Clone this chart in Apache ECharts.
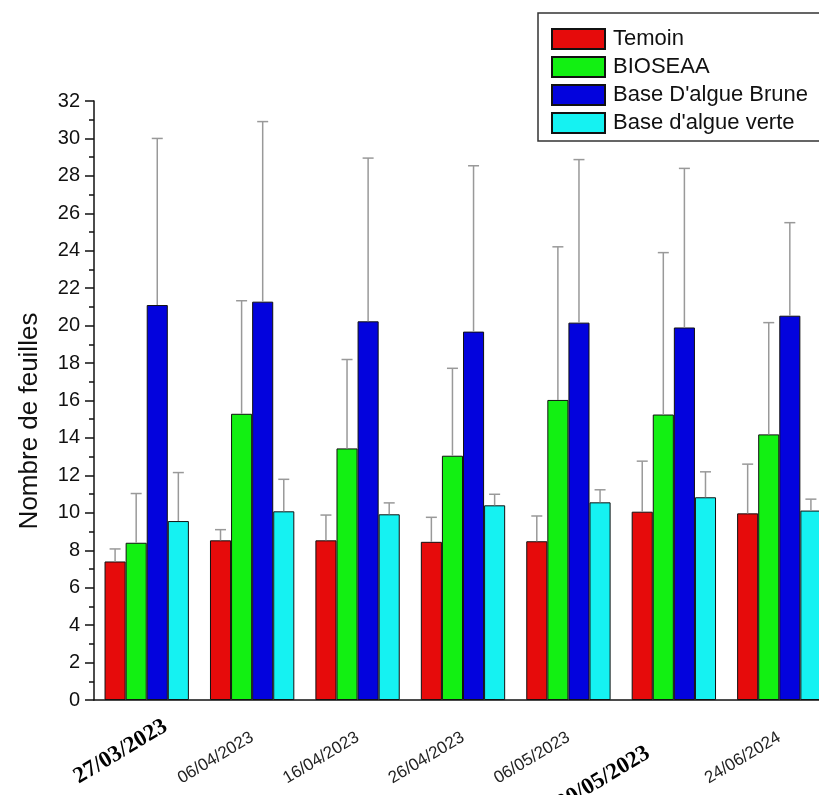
<!DOCTYPE html>
<html>
<head>
<meta charset="utf-8">
<script src="https://cdn.jsdelivr.net/npm/echarts@6/dist/echarts.min.js"></script>
<style>
  html, body { margin: 0; padding: 0; background: #fff; }
  #chart { width: 819px; height: 795px; }
</style>
</head>
<body>
<div id="chart"></div>
<script>
// dates de mesure
const dates = ['27/03/2023', '06/04/2023', '16/04/2023', '26/04/2023', '06/05/2023', '30/05/2023', '24/06/2024'];

// moyennes + écarts (partie haute seulement)
const temoin = [7.4, 8.53, 8.53, 8.45, 8.48, 10.06, 9.97];
const temoinSd = [0.67, 0.57, 1.35, 1.31, 1.35, 2.7, 2.63];
const bioseaa = [8.4, 15.29, 13.44, 13.05, 16.03, 15.25, 14.19];
const bioseaaSd = [2.63, 6.04, 4.75, 4.67, 8.18, 8.65, 5.97];
const brune = [21.1, 21.28, 20.23, 19.68, 20.16, 19.9, 20.53];
const bruneSd = [8.9, 9.62, 8.72, 8.86, 8.71, 8.5, 4.97];
const verte = [9.56, 10.08, 9.92, 10.4, 10.56, 10.83, 10.12];
const verteSd = [2.59, 1.71, 0.61, 0.59, 0.67, 1.36, 0.61];

const names = ['Temoin', 'BIOSEAA', "Base D'algue Brune", "Base d'algue verte"];
const colors = ['#e60b0b', '#12f012', '#0303dd', '#15f2f2'];
const means = [temoin, bioseaa, brune, verte];
const sds = [temoinSd, bioseaaSd, bruneSd, verteSd];

let errData = [];
means.forEach((m, k) => {
  m.forEach((v, i) => errData.push([i, k, v, sds[k][i]]));
});

let chart = echarts.init(document.getElementById('chart'));

let series = names.map((n, k) => ({
  name: n,
  type: 'bar',
  data: means[k],
  barGap: 0,
  barCategoryGap: '20%',
  itemStyle: { color: colors[k], borderColor: '#111', borderWidth: 1 }
}));

series.push({
  type: 'custom',
  z: 5,
  data: errData,
  renderItem: function (params, api) {
    let cat = api.value(0);
    let k = api.value(1);
    let mean = api.value(2);
    let sd = api.value(3);
    let base = api.coord([cat, mean]);
    let top = api.coord([cat, mean + sd]);
    let band = api.size([1, 0])[0];
    let barW = band * 0.8 / 4;
    let x = base[0] + (k - 1.5) * barW;
    let st = { stroke: '#999', lineWidth: 1.5 };
    return {
      type: 'group',
      children: [
        { type: 'line', shape: { x1: x, y1: base[1], x2: x, y2: top[1] }, style: st },
        { type: 'line', shape: { x1: x - 5.5, y1: top[1], x2: x + 5.5, y2: top[1] }, style: st }
      ]
    };
  }
});

chart.setOption({
  animation: false,
  textStyle: { fontFamily: '"Liberation Sans", Arial, sans-serif' },
  grid: { left: 94, top: 101, width: 738, height: 599, outerBoundsMode: 'none' },
  legend: {
    orient: 'vertical',
    left: 538,
    top: 13,
    padding: [15, 60, 7, 13],
    icon: 'rect',
    itemWidth: 53,
    itemHeight: 20,
    itemGap: 6,
    borderColor: '#333',
    borderWidth: 1.5,
    data: names,
    textStyle: { fontSize: 22, color: '#111', lineHeight: 20, padding: [0, 0, 0, 3] }
  },
  graphic: [{
    type: 'text',
    x: 30,
    y: 421,
    rotation: Math.PI / 2,
    style: {
      text: 'Nombre de feuilles',
      font: '26px "Liberation Sans", Arial, sans-serif',
      fill: '#111',
      align: 'center',
      verticalAlign: 'middle'
    }
  }],
  xAxis: [
    {
      type: 'category',
      data: dates,
      axisLine: { lineStyle: { color: '#111', width: 1.5 } },
      axisTick: { alignWithLabel: true, length: 9, lineStyle: { color: '#111', width: 1.5 } },
      axisLabel: {
        rotate: 31,
        margin: 36,
        interval: 0,
        fontSize: 17,
        color: '#222',
        formatter: function (v) {
          if (v === '30/05/2023') return '{b2|' + v + '}';
          if (v === '27/03/2023') return '{b|' + v + '}';
          return v;
        },
        rich: {
          b: { fontFamily: '"Liberation Serif", serif', fontWeight: 'bold', fontSize: 23, color: '#000', padding: [0, -22, 0, 0] },
          b2: { fontFamily: '"Liberation Serif", serif', fontWeight: 'bold', fontSize: 23, color: '#000', padding: [0, 30, 0, 0] }
        }
      }
    },
    {
      type: 'category',
      data: dates,
      position: 'bottom',
      axisLine: { show: false },
      axisTick: { length: 5, lineStyle: { color: '#111', width: 1.5 } },
      axisLabel: { show: false }
    }
  ],
  yAxis: {
    type: 'value',
    min: 0,
    max: 32,
    interval: 2,
    splitLine: { show: false },
    axisLine: { show: true, lineStyle: { color: '#111', width: 1.5 } },
    axisTick: { show: true, length: 9, lineStyle: { color: '#111', width: 1.5 } },
    minorTick: { show: true, splitNumber: 2, length: 5, lineStyle: { color: '#111', width: 1.5 } },
    axisLabel: { fontSize: 20, color: '#111', margin: 14 }
  },
  series: series
});
</script>
</body>
</html>
